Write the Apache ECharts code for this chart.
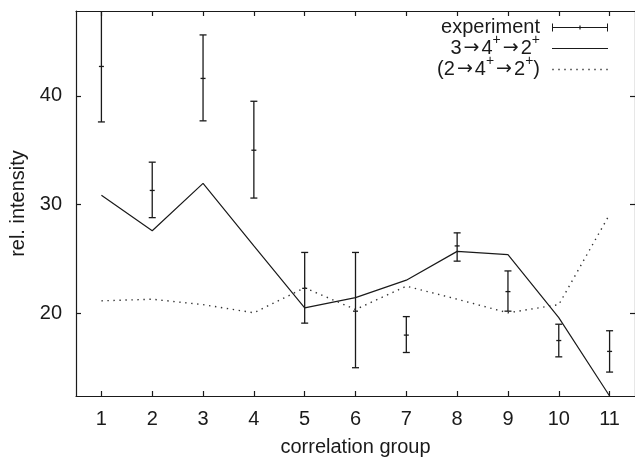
<!DOCTYPE html>
<html>
<head>
<meta charset="utf-8">
<script src="https://cdn.jsdelivr.net/npm/echarts@6.0.0/dist/echarts.min.js"></script>
<style>
  html, body { margin: 0; padding: 0; background: #fff; }
  #chart { width: 635px; height: 462px; }
</style>
</head>
<body>
<div id="chart"></div>
<script>
// correlation groups and measured intensities (value, lower, upper)
const groups = [1, 2, 3, 4, 5, 6, 7, 8, 9, 10, 11]
const expValue = [42.7, 31.3, 41.6, 35.0, 22.3, 20.2, 18.0, 26.2, 22.0, 17.5, 16.5]
const expLow = [37.6, 28.8, 37.7, 30.6, 19.1, 15.0, 16.4, 24.8, 20.2, 16.0, 14.6]
const expHigh = [47.8, 33.9, 45.6, 39.5, 25.6, 25.6, 19.7, 27.4, 23.9, 19.0, 18.4]

// calculated curves
const calc342 = [30.85, 27.6, 31.95, 26.2, 20.5, 21.45, 23.05, 25.7, 25.4, 19.6, 12.4]
const calc242 = [21.15, 21.3, 20.8, 20.05, 22.35, 20.35, 22.5, 21.3, 20.05, 20.8, 29.1]

const xTicks = [1, 2, 3, 4, 5, 6, 7, 8, 9, 10, 11]
const yTicks = [20, 30, 40]

const nameExp = 'experiment'
const name342 = '3→4⁺→2⁺'
const name242 = '(2→4⁺→2⁺)'

const ink = '#1a1a1a'
const font = 'Liberation Sans, Arial, Helvetica, sans-serif'

const expRows = groups.map((g, i) => [g, expValue[i], expLow[i], expHigh[i]])

function renderErrorBar(params, api) {
  const x = api.value(0)
  const mid = api.coord([x, api.value(1)])
  const lo = api.coord([x, api.value(2)])
  const hi = api.coord([x, api.value(3)])
  const cap = 3.5
  const style = { stroke: ink, lineWidth: 1.3 }
  return {
    type: 'group',
    children: [
      { type: 'line', shape: { x1: lo[0], y1: lo[1], x2: hi[0], y2: hi[1] }, style },
      { type: 'line', shape: { x1: lo[0] - cap, y1: lo[1], x2: lo[0] + cap, y2: lo[1] }, style },
      { type: 'line', shape: { x1: hi[0] - cap, y1: hi[1], x2: hi[0] + cap, y2: hi[1] }, style },
      { type: 'line', shape: { x1: mid[0] - 2.5, y1: mid[1], x2: mid[0] + 2.5, y2: mid[1] }, style }
    ]
  }
}

// legend icons are stretched to 56x8, the tiny corner squares keep the box full height
const boxKeep = 'M0,0h0.01v0.01h-0.01z M0,7.99h0.01v0.01h-0.01z '
let dots = ''
for (let x = 0; x < 55; x += 6) dots += 'M' + x + ',3.3h1.4v1.4h-1.4z '
const iconExp = 'path://M0,0h1v8h-1z M0,3.4h56v1.2h-56z M55,0h1v8h-1z M27.4,2h1.2v4h-1.2z'
const iconSolid = 'path://' + boxKeep + 'M0,3.4h56v1.2h-56z'
const iconDotted = 'path://' + boxKeep + dots

const tickStyle = { inside: true, length: 5, lineStyle: { color: ink, width: 1.2 } }
const lineAxis = { show: true, lineStyle: { color: ink, width: 1.2 } }

const option = {
  animation: false,
  backgroundColor: '#fff',
  textStyle: { fontFamily: font, color: ink },
  grid: { left: 76, right: -3, top: 11, bottom: 64 },
  legend: {
    orient: 'vertical',
    right: 22,
    top: 7,
    align: 'right',
    itemWidth: 56,
    itemHeight: 8,
    itemGap: -10,
    selectedMode: false,
    // arrows in DejaVu, the "+" raised as a superscript
    formatter: name => name.replace(/→/g, '{a|→}').replace(/⁺/g, '{s|+}'),
    textStyle: {
      fontFamily: font, fontSize: 20, color: ink, lineHeight: 31, padding: [0, 7, 0, 0],
      rich: {
        a: { fontFamily: 'DejaVu Sans', fontSize: 19, color: ink, lineHeight: 31, padding: [0, 2, 0, 2] },
        s: { fontFamily: font, fontSize: 14, color: ink, verticalAlign: 'bottom', padding: [0, 0, 17, 0] }
      }
    },
    data: [
      { name: nameExp, icon: iconExp, itemStyle: { color: ink } },
      { name: name342, icon: iconSolid, itemStyle: { color: ink } },
      { name: name242, icon: iconDotted, itemStyle: { color: '#333' } }
    ]
  },
  xAxis: [
    {
      type: 'value',
      min: 0.5,
      max: 11.5,
      name: 'correlation group',
      nameLocation: 'middle',
      nameGap: 41,
      nameTextStyle: { fontSize: 20, color: ink, fontFamily: font },
      axisLine: lineAxis,
      axisTick: Object.assign({ customValues: xTicks }, tickStyle),
      axisLabel: { customValues: xTicks, fontSize: 20, color: ink, margin: 13, fontFamily: font },
      splitLine: { show: false }
    },
    {
      type: 'value',
      position: 'top',
      min: 0.5,
      max: 11.5,
      axisLine: lineAxis,
      axisTick: Object.assign({ customValues: xTicks }, tickStyle),
      axisLabel: { show: false },
      splitLine: { show: false }
    }
  ],
  yAxis: [
    {
      type: 'value',
      min: 12.4,
      max: 47.8,
      name: 'rel. intensity',
      nameLocation: 'middle',
      nameGap: 46,
      nameTextStyle: { fontSize: 20, color: ink, fontFamily: font },
      axisLine: lineAxis,
      axisTick: Object.assign({ customValues: yTicks }, tickStyle),
      axisLabel: { customValues: yTicks, fontSize: 20, color: ink, margin: 14, fontFamily: font },
      splitLine: { show: false }
    },
    {
      type: 'value',
      position: 'right',
      min: 12.4,
      max: 47.8,
      axisLine: lineAxis,
      axisTick: Object.assign({ customValues: yTicks }, tickStyle),
      axisLabel: { show: false },
      splitLine: { show: false }
    }
  ],
  series: [
    {
      name: nameExp,
      type: 'custom',
      renderItem: renderErrorBar,
      clip: true,
      encode: { x: 0, y: [1, 2, 3] },
      data: expRows,
      z: 3
    },
    {
      name: name342,
      type: 'line',
      symbol: 'none',
      clip: true,
      lineStyle: { color: ink, width: 1.2 },
      itemStyle: { color: ink },
      data: groups.map((g, i) => [g, calc342[i]])
    },
    {
      name: name242,
      type: 'line',
      symbol: 'none',
      clip: true,
      lineStyle: { color: '#333', width: 1.4, type: [1.4, 4.6] },
      itemStyle: { color: '#333' },
      data: groups.map((g, i) => [g, calc242[i]])
    }
  ]
}

const chart = echarts.init(document.getElementById('chart'), null, { renderer: 'canvas' })
chart.setOption(option)
</script>
</body>
</html>
